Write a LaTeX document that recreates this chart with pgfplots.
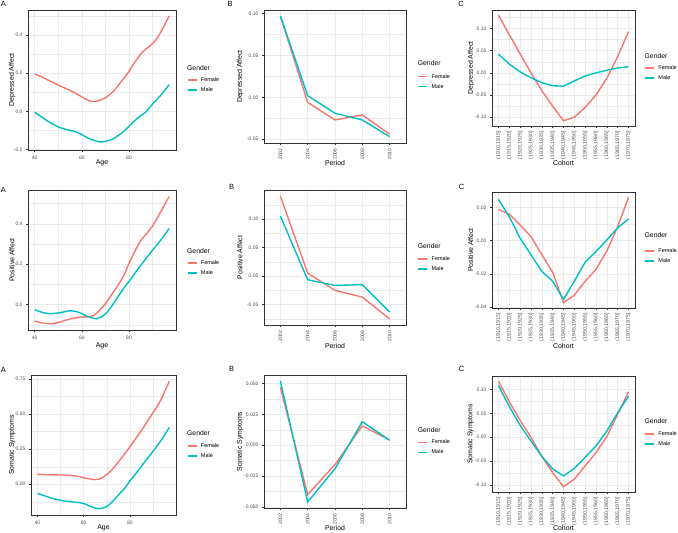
\documentclass[border=0pt]{standalone}
\usepackage{pgfplots}
\pgfplotsset{compat=1.18}
\usepackage{fontspec}
\setmainfont{Liberation Sans}
\definecolor{fem}{HTML}{F8766D}
\definecolor{mal}{HTML}{00BFC4}
\definecolor{grey20}{HTML}{333333}
\definecolor{grey30}{HTML}{4D4D4D}
\definecolor{gridc}{HTML}{EBEBEB}
\pgfplotsset{
  gg/.style={
    scale only axis, anchor=north west, clip mode=individual,
    axis line style={draw=grey20, line width=0.5pt},
    tick align=outside, tick pos=left,
    major tick length=2pt, minor tick length=0pt,
    major tick style={draw=grey20, line width=0.5pt},
    grid=both, scaled y ticks=false, scaled x ticks=false,
    major grid style={draw=gridc, line width=0.55pt},
    minor grid style={draw=gridc, line width=0.3pt},
    tick label style={font=\fontsize{5}{6}\selectfont, text=grey30},
    xlabel style={font=\fontsize{6.9}{8}\selectfont, anchor=center},
    ylabel style={font=\fontsize{6.9}{8}\selectfont, anchor=center},
    /pgf/number format/assume math mode=true,
    legend image code/.code={\draw[##1, line width=1.5pt] (0pt,0pt) -- (9pt,0pt); \path (12.5pt,0pt);},
    legend style={draw=none, fill=none, inner sep=0pt, outer sep=0pt, anchor=west,
      font=\fontsize{5.5}{6}\selectfont, row sep=5pt,
      nodes={inner sep=0pt, text height=4pt, text depth=1pt, anchor=west}},
    legend cell align=left,
    every axis plot/.append style={line width=1.4pt},
  },
  age/.style={gg, xmin=37.2, xmax=99.9, xtick={40,60,80}, minor xtick={50,70,90}, xlabel={Age}},
  period/.style={gg, xmin=-0.6, xmax=4.6, xtick={0,...,4}, xticklabels={2002,2004,2006,2008,2010},
    xticklabel style={rotate=90, anchor=east}, xlabel={Period}},
  cohort/.style={gg, xmin=-0.6, xmax=12.6, xtick={0,...,12},
    xticklabels={{(1910,1915]},{(1915,1920]},{(1920,1925]},{(1925,1930]},{(1930,1935]},{(1935,1940]},{(1940,1945]},{(1945,1950]},{(1950,1955]},{(1955,1960]},{(1960,1965]},{(1965,1970]},{(1970,1975]}},
    xticklabel style={rotate=90, anchor=east, font=\fontsize{5.2}{6}\selectfont}, xlabel={Cohort}},
  prec/.style={yticklabel style={/pgf/number format/fixed, /pgf/number format/fixed zerofill, /pgf/number format/precision=#1}},
}
\newcommand{\gtitle}[2]{\node[anchor=west, inner sep=0pt, font=\fontsize{6.8}{8}\selectfont] at (axis description cs:#1,#2) {Gender};}
\begin{document}
\begin{tikzpicture}
\path[use as bounding box] (0pt,0pt) rectangle (678pt,-533pt);
% ---------------- Row 1 ----------------
\begin{axis}[age, at={(28pt,-10pt)}, width=148pt, height=140pt,
  ymin=-0.203, ymax=0.531, ytick={-0.2,0,0.2,0.4}, minor ytick={-0.1,0.1,0.3,0.5}, prec=1,
  ylabel={Depressed Affect},
  xlabel style={at={(axis description cs:0.5,-0.093)}}, ylabel style={at={(axis description cs:-0.108,0.5)}},
  legend style={at={(axis description cs:1.0743,0.4643)}}]
\addplot[fem, smooth] coordinates {(40,0.195) (43,0.18) (46,0.162) (50,0.138) (54,0.115) (57.5,0.094) (61,0.068) (64,0.051) (66,0.052) (68.8,0.063) (71,0.08) (73.8,0.11) (76,0.145) (78.7,0.186) (80,0.21) (82.3,0.255) (85,0.30) (87,0.325) (90,0.355) (93,0.405) (97,0.50)};
\addlegendentry{Female}
\addplot[mal, smooth] coordinates {(40,-0.005) (43,-0.03) (46,-0.055) (50.4,-0.084) (54,-0.097) (57.5,-0.108) (60,-0.122) (61.8,-0.135) (64,-0.148) (67.4,-0.16) (70,-0.158) (73.1,-0.146) (76,-0.122) (78.7,-0.095) (81.5,-0.06) (84.4,-0.028) (87,-0.005) (90.1,0.04) (93.5,0.085) (97,0.14)};
\addlegendentry{Male}
\gtitle{1.0743}{0.5857}
\end{axis}
\begin{axis}[period, at={(264pt,-10pt)}, width=142pt, height=133pt,
  ymin=-0.0545, ymax=0.1042, ytick={-0.05,0,0.05,0.10}, minor ytick={-0.025,0.025,0.075}, prec=2,
  ylabel={Depressed Affect},
  xlabel style={at={(axis description cs:0.5,-0.150)}}, ylabel style={at={(axis description cs:-0.169,0.5)}},
  legend style={at={(axis description cs:1.0824,0.4624)}}]
\addplot[fem] coordinates {(0,0.097) (1,-0.006) (2,-0.027) (3,-0.021) (4,-0.044)};
\addlegendentry{Female}
\addplot[mal] coordinates {(0,0.097) (1,0.002) (2,-0.019) (3,-0.027) (4,-0.047)};
\addlegendentry{Male}
\gtitle{1.0824}{0.6015}
\end{axis}
\begin{axis}[cohort, at={(492pt,-10pt)}, width=143pt, height=116pt,
  ymin=-0.1199, ymax=0.1419, ytick={-0.1,-0.05,0,0.05,0.1}, minor ytick={-0.075,-0.025,0.025,0.075,0.125}, prec=2,
  ylabel={Depressed Affect},
  xlabel style={at={(axis description cs:0.5,-0.319)}}, ylabel style={at={(axis description cs:-0.147,0.5)}},
  legend style={at={(axis description cs:1.0664,0.4569)}}]
\addplot[fem] coordinates {(0,0.130) (1,0.086) (2,0.043) (3,0.000) (4,-0.040) (5,-0.075) (6,-0.108) (7,-0.100) (8,-0.078) (9,-0.050) (10,-0.012) (11,0.037) (12,0.093)};
\addlegendentry{Female}
\addplot[mal] coordinates {(0,0.042) (1,0.020) (2,0.002) (3,-0.011) (4,-0.022) (5,-0.029) (6,-0.030) (7,-0.018) (8,-0.007) (9,0.000) (10,0.006) (11,0.011) (12,0.014)};
\addlegendentry{Male}
\gtitle{1.0664}{0.6034}
\end{axis}
% ---------------- Row 2 ----------------
\begin{axis}[age, at={(28pt,-190pt)}, width=148pt, height=140pt,
  ymin=-0.125, ymax=0.567, ytick={0,0.2,0.4}, minor ytick={-0.1,0.1,0.3,0.5}, prec=1,
  ylabel={Positive Affect},
  xlabel style={at={(axis description cs:0.5,-0.114)}}, ylabel style={at={(axis description cs:-0.108,0.5)}},
  legend style={at={(axis description cs:1.0743,0.443)}}]
\addplot[fem, smooth] coordinates {(40,-0.08) (43,-0.09) (46.8,-0.094) (50,-0.088) (53.9,-0.074) (57,-0.066) (60,-0.061) (63.9,-0.058) (66,-0.045) (68.1,-0.02) (70,0.005) (72.4,0.046) (75,0.09) (77.8,0.145) (80,0.205) (82.5,0.265) (85,0.318) (87.5,0.352) (90,0.39) (93,0.45) (97,0.535)};
\addlegendentry{Female}
\addplot[mal, smooth] coordinates {(40,-0.025) (43,-0.037) (46,-0.044) (50,-0.041) (53,-0.034) (55.3,-0.030) (58,-0.035) (60,-0.044) (62.4,-0.058) (64.5,-0.066) (66.4,-0.069) (68,-0.062) (70.2,-0.044) (72.5,-0.01) (75.2,0.038) (78,0.085) (80.8,0.128) (84.4,0.186) (87,0.225) (90,0.27) (93.5,0.32) (97,0.377)};
\addlegendentry{Male}
\gtitle{1.0743}{0.564}
\end{axis}
\begin{axis}[period, at={(264pt,-190pt)}, width=142pt, height=135pt,
  ymin=-0.0858, ymax=0.1508, ytick={-0.05,0,0.05,0.10}, minor ytick={-0.075,-0.025,0.025,0.075,0.125}, prec=2,
  ylabel={Positive Affect},
  xlabel style={at={(axis description cs:0.5,-0.156)}}, ylabel style={at={(axis description cs:-0.169,0.5)}},
  legend style={at={(axis description cs:1.0824,0.4504)}}]
\addplot[fem] coordinates {(0,0.140) (1,0.005) (2,-0.025) (3,-0.037) (4,-0.075)};
\addlegendentry{Female}
\addplot[mal] coordinates {(0,0.105) (1,-0.0065) (2,-0.0165) (3,-0.015) (4,-0.063)};
\addlegendentry{Male}
\gtitle{1.0824}{0.5874}
\end{axis}
\begin{axis}[cohort, at={(492pt,-192pt)}, width=143pt, height=116pt,
  ymin=-0.0405, ymax=0.0292, ytick={-0.04,-0.02,0,0.02}, minor ytick={-0.03,-0.01,0.01}, prec=2,
  ylabel={Positive Affect},
  xlabel style={at={(axis description cs:0.5,-0.328)}}, ylabel style={at={(axis description cs:-0.149,0.5)}},
  legend style={at={(axis description cs:1.0664,0.45)}}]
\addplot[fem] coordinates {(0,0.0187) (1,0.0159) (2,0.0093) (3,0.0024) (4,-0.0085) (5,-0.019) (6,-0.0373) (7,-0.0328) (8,-0.0244) (9,-0.0173) (10,-0.0062) (11,0.0083) (12,0.026)};
\addlegendentry{Female}
\addplot[mal] coordinates {(0,0.0248) (1,0.0143) (2,0.0014) (3,-0.0085) (4,-0.0185) (5,-0.0244) (6,-0.0353) (7,-0.0244) (8,-0.0129) (9,-0.0066) (10,0.0004) (11,0.0077) (12,0.013)};
\addlegendentry{Male}
\gtitle{1.0664}{0.6267}
\end{axis}
% ---------------- Row 3 ----------------
\begin{axis}[age, at={(31pt,-375pt)}, width=145pt, height=140pt,
  ymin=-0.219, ymax=0.778, ytick={0,0.25,0.5,0.75}, minor ytick={-0.125,0.125,0.375,0.625}, prec=2,
  ylabel={Somatic Symptoms},
  xlabel style={at={(axis description cs:0.5,-0.093)}}, ylabel style={at={(axis description cs:-0.131,0.5)}},
  legend style={at={(axis description cs:1.0759,0.4586)}}]
\addplot[fem, smooth] coordinates {(40,0.071) (43,0.069) (46.8,0.067) (50,0.066) (54,0.064) (57,0.058) (59.7,0.048) (62,0.04) (64.7,0.033) (66.5,0.036) (68.2,0.048) (70,0.07) (72.5,0.107) (75,0.16) (78.2,0.226) (81.8,0.31) (85,0.385) (90,0.51) (93,0.59) (97,0.733)};
\addlegendentry{Female}
\addplot[mal, smooth] coordinates {(40,-0.064) (43,-0.082) (46.8,-0.102) (50,-0.114) (52.5,-0.121) (55,-0.126) (58.2,-0.131) (60.5,-0.14) (62.5,-0.155) (64.5,-0.167) (66.1,-0.174) (68,-0.17) (70.3,-0.155) (72.5,-0.122) (75.3,-0.071) (78,-0.022) (80,0.024) (83,0.085) (86.7,0.167) (90,0.235) (93.8,0.321) (97,0.405)};
\addlegendentry{Male}
\gtitle{1.0759}{0.5836}
\end{axis}
\begin{axis}[period, at={(264pt,-375pt)}, width=142pt, height=133pt,
  ymin=-0.0509, ymax=0.0569, ytick={-0.05,-0.025,0,0.025,0.05}, minor ytick={-0.0375,-0.0125,0.0125,0.0375}, prec=3,
  ylabel={Somatic Symptoms},
  xlabel style={at={(axis description cs:0.5,-0.150)}}, ylabel style={at={(axis description cs:-0.169,0.5)}},
  legend style={at={(axis description cs:1.0824,0.4564)}}]
\addplot[fem] coordinates {(0,0.047) (1,-0.040) (2,-0.0157) (3,0.0157) (4,0.0043)};
\addlegendentry{Female}
\addplot[mal] coordinates {(0,0.052) (1,-0.046) (2,-0.019) (3,0.019) (4,0.004)};
\addlegendentry{Male}
\gtitle{1.0824}{0.5865}
\end{axis}
\begin{axis}[cohort, at={(492pt,-376pt)}, width=143pt, height=116pt,
  ymin=-0.1145, ymax=0.128, ytick={-0.1,-0.05,0,0.05,0.1}, minor ytick={-0.075,-0.025,0.025,0.075,0.125}, prec=2,
  ylabel={Somatic Symptoms},
  xlabel style={at={(axis description cs:0.5,-0.310)}}, ylabel style={at={(axis description cs:-0.149,0.5)}},
  legend style={at={(axis description cs:1.0664,0.4586)}}]
\addplot[fem] coordinates {(0,0.117) (1,0.074) (2,0.035) (3,0.000) (4,-0.040) (5,-0.074) (6,-0.1035) (7,-0.0875) (8,-0.060) (9,-0.032) (10,0.001) (11,0.048) (12,0.095)};
\addlegendentry{Female}
\addplot[mal] coordinates {(0,0.108) (1,0.064) (2,0.025) (3,-0.008) (4,-0.040) (5,-0.066) (6,-0.081) (7,-0.065) (8,-0.042) (9,-0.018) (10,0.013) (11,0.051) (12,0.086)};
\addlegendentry{Male}
\gtitle{1.0664}{0.612}
\end{axis}
% panel letters
\begin{scope}[every node/.style={font=\fontsize{7.5}{9}\selectfont, inner sep=0pt}]
\node at (3.3pt,-4pt) {A};
\node at (230pt,-4pt) {B};
\node at (461pt,-4pt) {C};
\node at (3.3pt,-190pt) {A};
\node at (231.7pt,-187pt) {B};
\node at (461.7pt,-187pt) {C};
\node at (3.3pt,-370pt) {A};
\node at (231.7pt,-369pt) {B};
\node at (461.7pt,-369pt) {C};
\end{scope}
\end{tikzpicture}
\end{document}
